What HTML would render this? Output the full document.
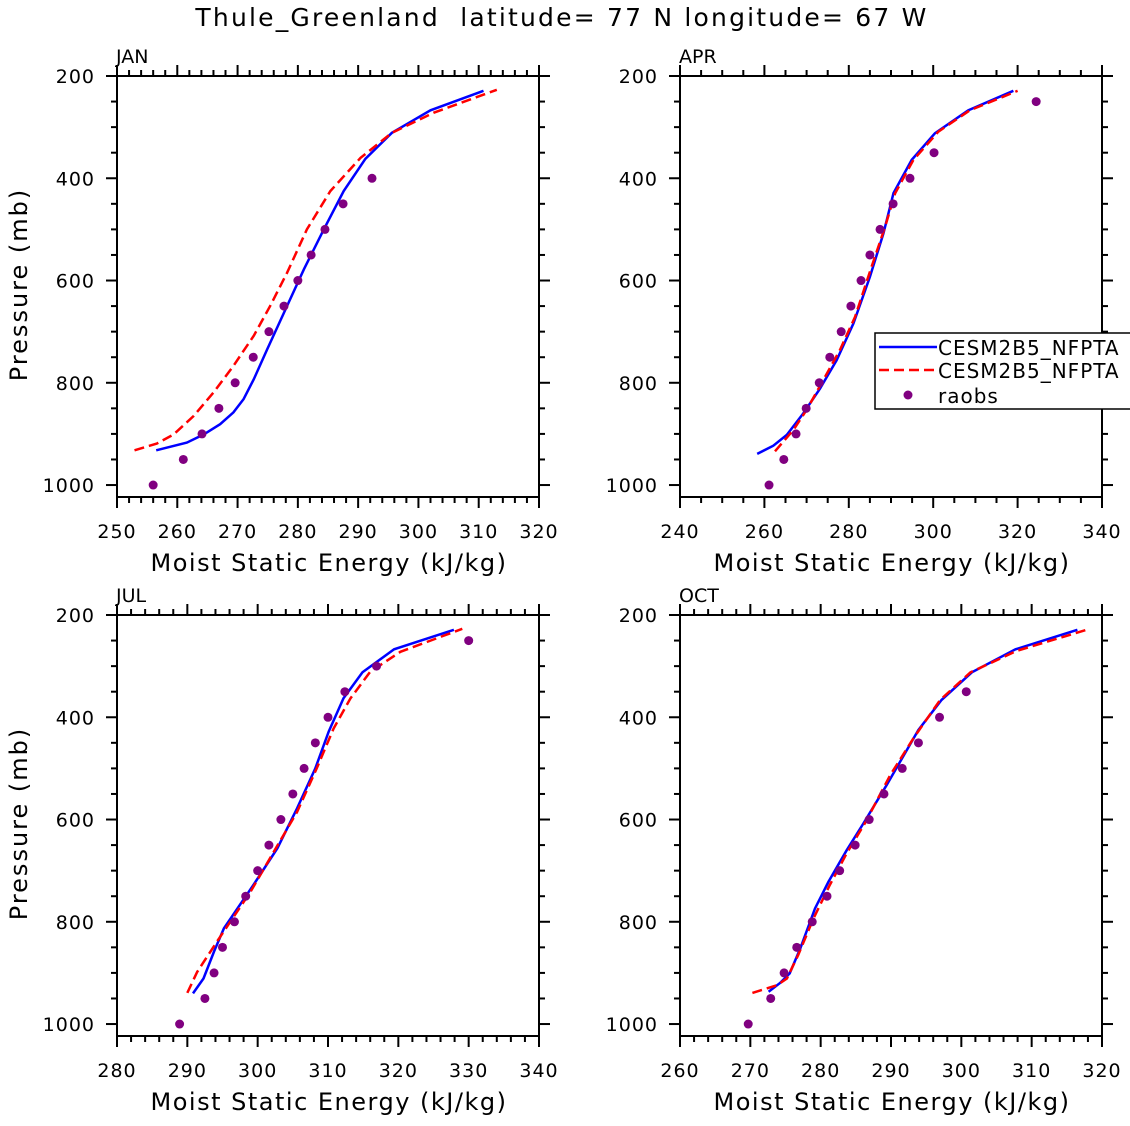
<!DOCTYPE html>
<html><head><meta charset="utf-8"><style>
body{margin:0;background:#fff}
svg text{font-family:"DejaVu Sans","Liberation Sans",sans-serif;fill:#000}
</style></head><body>
<svg id="c" width="1130" height="1121" xmlns="http://www.w3.org/2000/svg">
<text x="562" y="26" font-size="25" letter-spacing="2.2" xml:space="preserve" text-anchor="middle">Thule_Greenland  latitude= 77 N longitude= 67 W</text>
</svg>
<script>
const janObs=[[256,1000],[261,950],[264.1,900],[266.9,850],[269.6,800],[272.6,750],[275.2,700],[277.7,650],[280,600],[282.2,550],[284.5,500],[287.5,450],[292.3,400]];
const janBlue=[[256.5,932],[261.6,917],[264.4,901],[267.1,881],[269.3,858],[271,832],[272.7,793],[274.9,735],[278.2,650],[281,578],[284.3,500],[287.6,425],[291.2,362],[295.6,311],[302,267],[310.8,229]];
const janRed=[[252.9,932],[256.6,919],[259.4,901],[262.7,865],[266,819],[269.3,767],[272.7,708],[275.4,650],[278.2,585],[281.5,500],[285.4,425],[290.4,360],[295.6,311],[302.5,272],[313,227]];
const aprObs=[[261.1,1000],[264.6,950],[267.5,900],[269.9,850],[273,800],[275.5,750],[278.2,700],[280.5,650],[282.9,600],[285,550],[287.4,500],[290.5,450],[294.5,400],[300.2,350],[324.4,250]];
const aprBlue=[[258.3,939],[262.1,923],[265.3,902],[269.2,860],[273.2,811],[277.1,756],[281.1,684],[285,593],[288.2,508],[290.6,429],[294.9,364],[300.4,312],[308.3,267],[319,229]];
const aprRed=[[262.5,934],[266.9,892],[270,853],[274,794],[277.9,736],[281.5,671],[285.4,573],[288.6,495],[291,429],[295.3,364],[301.2,309],[308.7,267],[320,229]];
const julObs=[[288.9,1000],[292.5,950],[293.8,900],[295,850],[296.7,800],[298.3,750],[300,700],[301.6,650],[303.3,600],[305,550],[306.6,500],[308.2,450],[310,400],[312.4,350],[316.9,300],[330,250]];
const julBlue=[[290.8,940],[292.3,911],[293.8,858],[295.2,813],[299.4,728],[302.8,656],[305.6,578],[308.2,500],[310.1,428],[312.2,363],[314.9,312],[319.4,267],[327.9,229]];
const julRed=[[290,939],[291.4,898],[294.2,839],[299,741],[302.3,663],[305.6,585],[308.4,500],[310.8,422],[313.2,363],[316,311],[320.3,272],[329.1,227]];
const octObs=[[269.7,1000],[272.9,950],[274.8,900],[276.6,850],[278.8,800],[280.9,750],[282.7,700],[284.9,650],[286.9,600],[289,550],[291.6,500],[293.9,450],[296.9,400],[300.7,350]];
const octBlue=[[272.6,937],[274.2,920],[275.6,901],[277.1,852],[279.2,774],[281.1,722],[283.7,660],[286.1,607],[289.4,532],[293.9,425],[297.2,366],[301.5,312],[307.7,267],[316.5,229]];
const octRed=[[270.3,939],[273.8,924],[275.2,911],[276.8,865],[279,793],[281.3,728],[283.7,666],[286.3,607],[289.9,513],[293.2,441],[297,366],[301.3,312],[307.9,270],[318.3,227]];
const yTicks=[200,400,600,800,1000];
const panels=[
 {n:'jan',label:'JAN',x0:117,y0:76,xmin:250,xmax:320,maj:10,min:2,obs:janObs,blue:janBlue,red:janRed,ylab:true},
 {n:'apr',label:'APR',x0:680,y0:76,xmin:240,xmax:340,maj:20,min:5,obs:aprObs,blue:aprBlue,red:aprRed,ylab:false},
 {n:'jul',label:'JUL',x0:117,y0:615,xmin:280,xmax:340,maj:10,min:2,obs:julObs,blue:julBlue,red:julRed,ylab:true},
 {n:'oct',label:'OCT',x0:680,y0:615,xmin:260,xmax:320,maj:10,min:2,obs:octObs,blue:octBlue,red:octRed,ylab:false}];
const svg=document.getElementById('c');
const NS='http://www.w3.org/2000/svg';
function mk(t,a,p){const e=document.createElementNS(NS,t);for(const k in a)e.setAttribute(k,a[k]);(p||svg).appendChild(e);return e;}
const W=422,H=421;
panels.forEach(P=>{
 const g=mk('g',{});
 
 
 const sx=v=>P.x0+(v-P.xmin)/(P.xmax-P.xmin)*W;
 const sy=p=>P.y0+(p-200)*0.5113;
 const r=mk('rect',{x:P.x0,y:P.y0,width:W,height:H,fill:'none',stroke:'#000','stroke-width':2},g);
 
 
 const xb=P.y0+H, xr=P.x0+W;
 for(let v=P.xmin;v<=P.xmax+0.01;v+=P.min){
  const major=Math.abs(((v-P.xmin)%P.maj))<0.01; const L=major?11:6; const x=sx(v);
  mk('line',{x1:x,x2:x,y1:xb,y2:xb+L,stroke:'#000','stroke-width':2},g);
  mk('line',{x1:x,x2:x,y1:P.y0,y2:P.y0-L,stroke:'#000','stroke-width':2},g);
  if(major){const t=mk('text',{x:x,y:xb+41,'font-size':19,'letter-spacing':1,'text-anchor':'middle'},g);t.textContent=Math.round(v);
   
   }
 }
 for(let p=200;p<=1000;p+=50){
  const major=p%200===0; const L=major?11:6; const y=sy(p);
  mk('line',{x1:P.x0,x2:P.x0-L,y1:y,y2:y,stroke:'#000','stroke-width':2},g);
  mk('line',{x1:xr,x2:xr+L,y1:y,y2:y,stroke:'#000','stroke-width':2},g);
 }
 yTicks.forEach(p=>{const t=mk('text',{x:P.x0-22,y:sy(p)+7,'font-size':19,'letter-spacing':1,'text-anchor':'end'},g);t.textContent=p;
  
  });
 const lt=mk('text',{x:P.x0-1,y:P.y0-13,'font-size':19},g);lt.textContent=P.label;
 
 
 const xt=mk('text',{x:P.x0+W/2+1,y:xb+74,'font-size':24,'letter-spacing':1.5,'text-anchor':'middle'},g);xt.textContent='Moist Static Energy (kJ/kg)';
 
 
 if(P.ylab){const yt=mk('text',{x:0,y:0,'font-size':24,'letter-spacing':2,'text-anchor':'middle',transform:`translate(27,${P.y0+H/2-2}) rotate(-90)`},g);yt.textContent='Pressure (mb)';
  
  }
 const pts=a=>a.map(d=>sx(d[0]).toFixed(1)+','+sy(d[1]).toFixed(1)).join(' ');
 const b=mk('polyline',{points:pts(P.blue),fill:'none',stroke:'#0000ff','stroke-width':2.5},g);
 
 
 const rd=mk('polyline',{points:pts(P.red),fill:'none',stroke:'#ff0000','stroke-width':2.5,'stroke-dasharray':'10,5'},g);
 
 
 P.obs.forEach(d=>{const c=mk('circle',{cx:sx(d[0]),cy:sy(d[1]),r:4.5,fill:'#800080'},g);
  
  });
});
const lg=mk('g',{});


mk('rect',{x:875,y:333,width:270,height:76,fill:'#fff',stroke:'#000','stroke-width':1.5},lg);
mk('line',{x1:879,x2:937,y1:347,y2:347,stroke:'#0000ff','stroke-width':2.5},lg);
mk('line',{x1:879,x2:937,y1:370,y2:370,stroke:'#ff0000','stroke-width':2.5,'stroke-dasharray':'10,5'},lg);
mk('circle',{cx:908,cy:395,r:4.5,fill:'#800080'},lg);
[['CESM2B5_NFPTA',347],['CESM2B5_NFPTA',370],['raobs',395]].forEach((e,i)=>{const t=mk('text',{x:938,y:e[1]+8,'font-size':20,'letter-spacing':1},lg);t.textContent=e[0];
 
 });
</script>
</body></html>
